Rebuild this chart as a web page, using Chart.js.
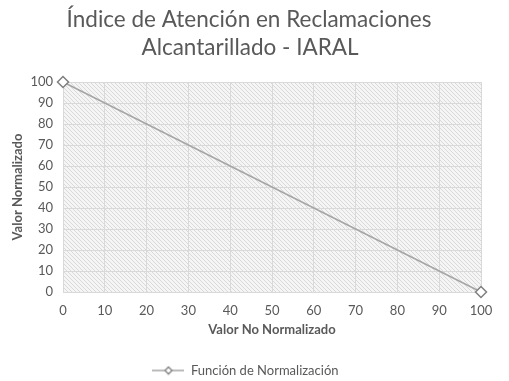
<!DOCTYPE html>
<html>
<head>
<meta charset="utf-8">
<script src="https://cdn.jsdelivr.net/npm/chart.js@4"></script>
<style>
html,body{margin:0;padding:0;background:#fff;}
#wrap{width:509px;height:381px;position:relative;}
</style>
</head>
<body>
<div id="wrap"><canvas id="c" width="509" height="381"></canvas></div>
<script>
const titleLines = ["Índice de Atención en Reclamaciones", "Alcantarillado - IARAL"];
const seriesName = "Función de Normalización";
const xValues = [0, 100];
const yValues = [100, 0];
const xTickLabels = [0, 10, 20, 30, 40, 50, 60, 70, 80, 90, 100];
const yTickLabels = [0, 10, 20, 30, 40, 50, 60, 70, 80, 90, 100];
const xAxisTitle = "Valor No Normalizado";
const yAxisTitle = "Valor Normalizado";

const FONT = "Lato, 'Open Sans', sans-serif";
const TXT = "#595959";

function makePattern() {
  const p = document.createElement('canvas');
  p.width = 4; p.height = 4;
  const g = p.getContext('2d');
  g.fillStyle = '#f5f5f5';
  g.fillRect(0, 0, 4, 4);
  g.strokeStyle = '#d9d9d9';
  g.lineWidth = 1;
  g.beginPath();
  g.moveTo(-1, -1); g.lineTo(5, 5);
  g.moveTo(-1, 3); g.lineTo(1, 5);
  g.moveTo(3, -1); g.lineTo(5, 1);
  g.stroke();
  return p;
}

function legendIcon() {
  const c = document.createElement('canvas');
  c.width = 32; c.height = 10;
  const g = c.getContext('2d');
  g.strokeStyle = '#a5a5a5';
  g.lineWidth = 1.5;
  g.beginPath(); g.moveTo(0, 5); g.lineTo(32, 5); g.stroke();
  g.fillStyle = '#fff';
  g.strokeStyle = '#7f7f7f';
  g.lineWidth = 1.3;
  g.beginPath();
  g.moveTo(16, 1.5); g.lineTo(19.5, 5); g.lineTo(16, 8.5); g.lineTo(12.5, 5); g.closePath();
  g.fill(); g.stroke();
  return c;
}

const hatchPlugin = {
  id: 'hatch',
  beforeDraw(chart) {
    const {ctx, chartArea: a} = chart;
    ctx.save();
    ctx.fillStyle = ctx.createPattern(makePattern(), 'repeat');
    ctx.fillRect(a.left, a.top, a.right - a.left, a.bottom - a.top);
    ctx.restore();
  }
};

const titlePlugin = {
  id: 'twoLineTitle',
  afterDraw(chart) {
    const ctx = chart.ctx;
    ctx.save();
    ctx.fillStyle = TXT;
    ctx.font = "22.5px " + FONT;
    ctx.textAlign = 'center';
    ctx.textBaseline = 'middle';
    ctx.fillText(titleLines[0], 249, 20);
    ctx.fillText(titleLines[1], 250, 48);
    ctx.restore();
  }
};

const icon = legendIcon();

new Chart(document.getElementById('c'), {
  type: 'scatter',
  data: {
    datasets: [{
      label: seriesName,
      data: xValues.map((x, i) => ({x: x, y: yValues[i]})),
      showLine: true,
      clip: false,
      borderColor: '#a5a5a5',
      borderWidth: 1.5,
      pointStyle: 'rectRot',
      pointRadius: 5.5,
      pointBorderColor: '#7f7f7f',
      pointBorderWidth: 1.5,
      pointBackgroundColor: '#ffffff'
    }]
  },
  options: {
    responsive: false,
    animation: false,
    layout: {padding: {top: 82, right: 28, left: 10, bottom: -6}},
    plugins: {
      title: {display: false},
      legend: {
        position: 'bottom',
        labels: {
          usePointStyle: true,
          pointStyleWidth: 32,
          color: TXT,
          font: {family: FONT, size: 13},
          padding: 6,
          generateLabels: (chart) => chart.data.datasets.map((d, i) => ({
            text: d.label, pointStyle: icon, datasetIndex: i,
            fillStyle: '#fff', strokeStyle: '#7f7f7f', lineWidth: 0, fontColor: TXT
          }))
        }
      },
      tooltip: {enabled: false}
    },
    scales: {
      x: {
        type: 'linear',
        min: 0, max: 100,
        afterBuildTicks: (s) => { s.ticks = xTickLabels.map(v => ({value: v})); },
        ticks: {color: TXT, font: {family: FONT, size: 13}, padding: 11, maxRotation: 0},
        grid: {color: '#d9d9d9', drawTicks: false},
        border: {color: '#d9d9d9'},
        title: {display: true, text: xAxisTitle, color: TXT, font: {family: FONT, size: 13, weight: 'bold'}, padding: {top: 4, bottom: 20}},
        afterFit: (s) => { s.height = 66; }
      },
      y: {
        type: 'linear',
        min: 0, max: 100,
        afterBuildTicks: (s) => { s.ticks = yTickLabels.map(v => ({value: v})); },
        ticks: {color: TXT, font: {family: FONT, size: 13}, padding: 10},
        grid: {color: '#d9d9d9', drawTicks: false},
        border: {color: '#d9d9d9'},
        title: {display: true, text: yAxisTitle, color: TXT, font: {family: FONT, size: 13, weight: 'bold'}, padding: {top: 0, bottom: 4}},
        afterFit: (s) => { s.width = 53; }
      }
    }
  },
  plugins: [hatchPlugin, titlePlugin]
});
</script>
</body>
</html>
